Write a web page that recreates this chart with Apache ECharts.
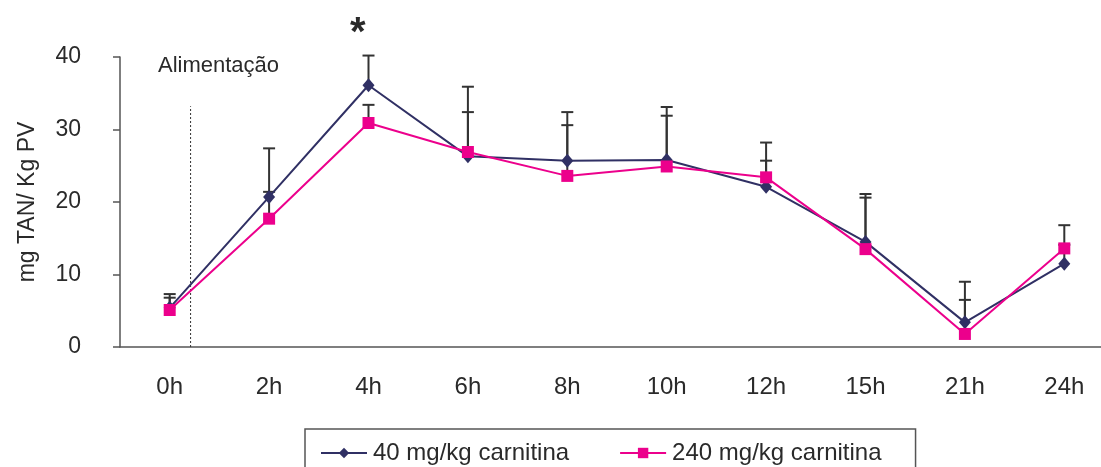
<!DOCTYPE html>
<html>
<head>
<meta charset="utf-8">
<script src="https://cdn.jsdelivr.net/npm/echarts@6/dist/echarts.min.js"></script>
<style>
  html, body { margin: 0; padding: 0; background: #fff; }
  #chart { width: 1101px; height: 467px; }
</style>
</head>
<body>
<div id="chart"></div>
<script>
// Sampling times after feeding
const times = ['0h', '2h', '4h', '6h', '8h', '10h', '12h', '15h', '21h', '24h'];
const yTicks = [0, 10, 20, 30, 40];

// Mean TAN (mg / kg PV) per dose group
const dose40Mean  = [5.4, 20.7, 36.1, 26.3, 25.7, 25.8, 22.1, 14.5, 3.4, 11.5];
const dose240Mean = [5.1, 17.7, 30.9, 26.9, 23.6, 24.9, 23.4, 13.5, 1.8, 13.6];

// Standard deviations (upper whisker only)
const dose40Sd  = [1.9, 6.7, 4.1, 9.6, 6.7, 7.3, 6.1, 6.6, 5.6, 2.6];
const dose240Sd = [1.7, 3.7, 2.5, 5.5, 7.0, 7.0, 2.3, 7.1, 4.7, 3.2];

// Feeding moment, as a position on the time index (between 0h and 2h)
const feedingPos = 0.21;
const feedingTop = 33.2;

const FONT = 'Liberation Sans, Arial, Helvetica, sans-serif';
const NARROW = 'Liberation Sans Narrow, Arial Narrow, Liberation Sans, sans-serif';
const DARK = '#303064';
const PINK = '#ec008c';
const BAR = '#333333';
const TEXT = '#2a2a2a';

function errorBarSeries(means, sds) {
  return {
    type: 'custom',
    xAxisIndex: 0,
    yAxisIndex: 0,
    z: 1,
    silent: true,
    data: means.map((m, i) => [i, m, m + sds[i]]),
    renderItem: function (params, api) {
      const base = api.coord([api.value(0), api.value(1)]);
      const top = api.coord([api.value(0), api.value(2)]);
      const half = 6;
      const style = { stroke: BAR, lineWidth: 2, fill: null };
      return {
        type: 'group',
        children: [
          { type: 'line', shape: { x1: base[0], y1: base[1], x2: top[0], y2: top[1] }, style: style },
          { type: 'line', shape: { x1: top[0] - half, y1: top[1], x2: top[0] + half, y2: top[1] }, style: style }
        ]
      };
    }
  };
}

const chart = echarts.init(document.getElementById('chart'), null, { renderer: 'canvas' });

chart.setOption({
  animation: false,
  backgroundColor: '#ffffff',
  textStyle: { fontFamily: FONT },
  grid: { left: 120, top: 57, height: 290, width: 994, containLabel: false, outerBoundsMode: 'none' },
  xAxis: [
    {
      type: 'category',
      data: times,
      boundaryGap: true,
      axisLine: { lineStyle: { color: '#555555', width: 1.5 } },
      axisTick: { show: false },
      axisLabel: { color: TEXT, fontSize: 24, fontFamily: FONT, margin: 28 },
      splitLine: { show: false }
    },
    {
      type: 'value',
      min: -0.5,
      max: times.length - 0.5,
      show: false
    }
  ],
  yAxis: {
    type: 'value',
    min: yTicks[0],
    max: yTicks[yTicks.length - 1],
    interval: 10,
    name: 'mg TAN/ Kg PV',
    nameLocation: 'middle',
    nameRotate: 90,
    nameGap: 81,
    nameTextStyle: { color: TEXT, fontSize: 23, fontFamily: FONT },
    axisLine: { show: true, onZero: false, lineStyle: { color: '#555555', width: 1.5 } },
    axisTick: { show: true, inside: false, length: 7, lineStyle: { color: '#555555', width: 1.5 } },
    axisLabel: { color: TEXT, fontSize: 23, fontFamily: NARROW, margin: 39 },
    splitLine: { show: false }
  },
  legend: {
    left: 305,
    top: 429,
    orient: 'horizontal',
    padding: [12, 34, 20, 15],
    itemGap: 50,
    itemWidth: 46,
    itemHeight: 13,
    borderColor: '#555555',
    borderWidth: 1.5,
    borderRadius: 0,
    textStyle: { color: TEXT, fontSize: 24, fontFamily: FONT, padding: [0, 0, 0, 1] },
    data: ['40 mg/kg carnitina', '240 mg/kg carnitina']
  },
  graphic: [
    {
      type: 'text',
      left: 158,
      top: 55,
      style: { text: 'Alimentação', fill: TEXT, font: '22px ' + FONT }
    },
    {
      type: 'text',
      left: 350,
      top: 14,
      style: { text: '*', fill: TEXT, font: 'bold 40px ' + FONT }
    }
  ],
  series: [
    errorBarSeries(dose40Mean, dose40Sd),
    errorBarSeries(dose240Mean, dose240Sd),
    {
      name: 'feeding',
      type: 'line',
      xAxisIndex: 1,
      yAxisIndex: 0,
      silent: true,
      symbol: 'none',
      z: 1,
      data: [[feedingPos, 0], [feedingPos, feedingTop]],
      lineStyle: { color: '#333333', width: 1, type: [2, 2] }
    },
    {
      name: '40 mg/kg carnitina',
      type: 'line',
      data: dose40Mean,
      symbol: 'diamond',
      symbolSize: [12, 14],
      color: DARK,
      itemStyle: { color: DARK },
      lineStyle: { color: DARK, width: 2 },
      z: 3
    },
    {
      name: '240 mg/kg carnitina',
      type: 'line',
      data: dose240Mean,
      symbol: 'rect',
      symbolSize: 12,
      color: PINK,
      itemStyle: { color: PINK },
      lineStyle: { color: PINK, width: 2 },
      z: 4
    }
  ]
});
</script>
</body>
</html>
